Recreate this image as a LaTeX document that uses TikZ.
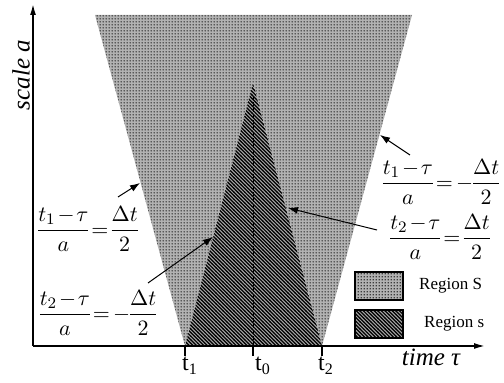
\documentclass[tikz,border=0pt]{standalone}
\usepackage{amsmath}
\usepackage{fontspec}
\setmainfont{Liberation Serif}
\usepackage{tikz}
\usetikzlibrary{arrows.meta,positioning,patterns}
\pgfdeclarepatternformonly{finedots}{\pgfqpoint{0pt}{0pt}}{\pgfqpoint{1.5pt}{1.5pt}}{\pgfqpoint{1.5pt}{1.5pt}}%
  {\pgfpathcircle{\pgfqpoint{0.75pt}{0.75pt}}{0.45pt}\pgfusepath{fill}}
\pgfdeclarepatternformonly{finehatch}{\pgfqpoint{-1pt}{-1pt}}{\pgfqpoint{2.8pt}{2.8pt}}{\pgfqpoint{1.8pt}{1.8pt}}%
  {\pgfsetlinewidth{0.6pt}\pgfpathmoveto{\pgfqpoint{-0.1pt}{1.9pt}}\pgfpathlineto{\pgfqpoint{1.9pt}{-0.1pt}}\pgfusepath{stroke}}
\newcommand{\tighteq}{\medmuskip=1.5mu\thickmuskip=2.5mu\nulldelimiterspace=0pt}
\tikzset{
  regS/.style={preaction={fill=black!30}, pattern=finedots},
  regs/.style={preaction={fill=black!35}, pattern=finehatch},
  axis/.style={line width=0.8pt, -{Latex[length=5.5pt,width=3pt]}},
  ptr/.style={line width=0.5pt, -{Latex[length=5pt,width=3.5pt]}},
  midline/.style={line width=0.5pt, dash pattern=on 2pt off 1pt},
  tick/.style={line width=0.6pt},
  eq/.style={font=\fontsize{11}{13}\selectfont\tighteq, inner sep=0pt},
  axlbl/.style={font=\fontsize{12.5}{15}\selectfont\itshape},
  tlbl/.style={font=\fontsize{12}{14}\selectfont, inner sep=0pt},
  legbox/.style={draw, line width=0.8pt, minimum width=24pt, minimum height=14pt, inner sep=0pt},
  legtxt/.style={font=\fontsize{8.5}{10}\selectfont, inner sep=0pt},
}
\begin{document}
\begin{tikzpicture}[x=0.5pt, y=-0.5pt]
  \useasboundingbox (0,0) rectangle (504,383);
  % regions
  \coordinate (S1) at (95,15); \coordinate (S2) at (412,15);
  \coordinate (t1) at (185,346); \coordinate (t2) at (322,346);
  \coordinate (t0) at (253,346); \coordinate (apex) at (253,83);
  \fill[regS] (S1) -- (S2) -- (t2) -- (t1) -- cycle;
  \fill[white] (t1) -- (apex) -- (t2) -- cycle;
  \fill[regs] (t1) -- (apex) -- (t2) -- cycle;
  \draw[midline] (t0) -- ([yshift=-6]apex);
  % axes
  \coordinate (O) at (33,346); \coordinate (ytip) at (33,4); \coordinate (xtip) at (485,346);
  \draw[axis] (O) -- (ytip);
  \draw[axis] (O) -- (xtip);
  \foreach \p in {t1,t0,t2} \draw[tick] (\p) -- ([yshift=-5]\p);
  \node[axlbl, rotate=90] (ya) at (21,75) {scale a};
  \node[axlbl] (xa) at (431,357) {time τ};
  \node[tlbl] (l1) at (190,366) {t\textsubscript{1}};
  \node[tlbl] (l0) at (263,366) {t\textsubscript{0}};
  \node[tlbl] (l2) at (326,366) {t\textsubscript{2}};
  % boundary equations
  \node[eq] (eqL1) at (88,229) {$\dfrac{t_1-\tau}{a}=\dfrac{\Delta t}{2}$};
  \node[eq] (eqL2) at (98,313) {$\dfrac{t_2-\tau}{a}=-\dfrac{\Delta t}{2}$};
  \node[eq] (eqR1) at (441,182) {$\dfrac{t_1-\tau}{a}=-\dfrac{\Delta t}{2}$};
  \node[eq] (eqR2) at (440,237) {$\dfrac{t_2-\tau}{a}=\dfrac{\Delta t}{2}$};
  \coordinate (aL1) at (118,197); \coordinate (hL1) at (140,183);
  \coordinate (aL2) at (148,283); \coordinate (hL2) at (213,237);
  \coordinate (aR1) at (410,155); \coordinate (hR1) at (380,135);
  \coordinate (aR2) at (377,230); \coordinate (hR2) at (288,208);
  \draw[ptr] (aL1) -- (hL1);
  \draw[ptr] (aL2) -- (hL2);
  \draw[ptr] (aR1) -- (hR1);
  \draw[ptr] (aR2) -- (hR2);
  % legend
  \node[legbox, regS] (kS) at (379,286) {};
  \node[legbox, regs] (ks) at (379,324) {};
  \node[legtxt, right=7.5pt of kS] (lS) {Region S};
  \node[legtxt, right=10pt of ks] (ls) {Region s};
\end{tikzpicture}
\end{document}
